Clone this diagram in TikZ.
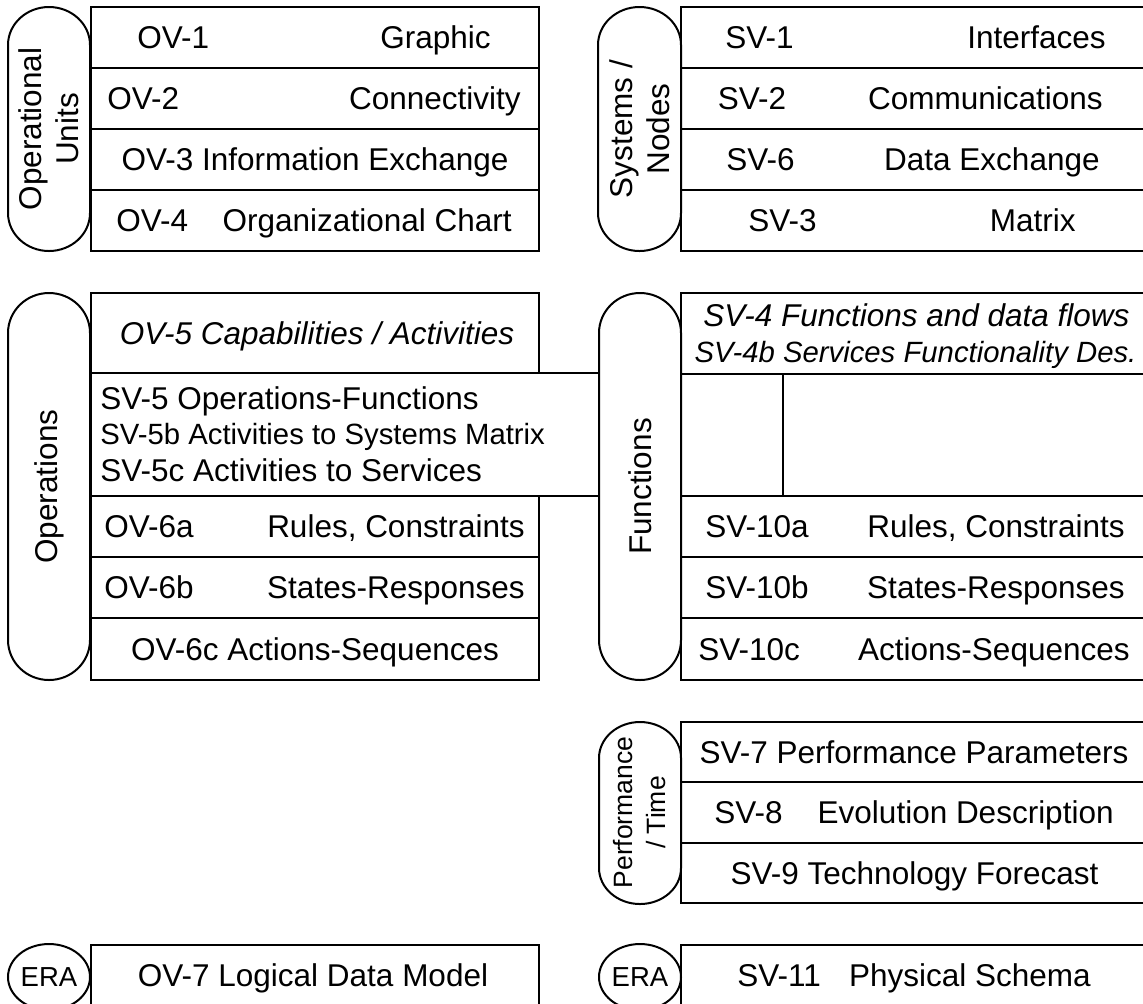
\documentclass[tikz,border=0pt]{standalone}
\usepackage{fontspec}
\setmainfont{Liberation Sans}
\newcommand\fsN{\fontsize{15.75}{18.5}\selectfont}
\newcommand\fsS{\fontsize{14.65}{17.5}\selectfont}
\newcommand\fsP{\fontsize{13.25}{16.5}\selectfont}
\newcommand\fsE{\fontsize{13.75}{16}\selectfont}
\newcommand\drawpill[5]{%
  \draw[ln] (#1,#3+#5) -- (#1,#4-#5)
    arc[start angle=180,end angle=0,x radius={(#2-#1)/2},y radius=#5]
    -- (#2,#3+#5)
    arc[start angle=0,end angle=-180,x radius={(#2-#1)/2},y radius=#5] -- cycle;}
\begin{document}
\begin{tikzpicture}[x=0.5pt,y=-0.5pt,
  ln/.style={draw=black,line width=1pt},
  t/.style={inner sep=0pt,font=\fsN},
  ti/.style={inner sep=0pt,font=\fsN\itshape},
  ts/.style={inner sep=0pt,font=\fsS},
  tsi/.style={inner sep=0pt,font=\fsS\itshape},
  plab/.style={inner sep=0pt,font=\fsN,rotate=90,align=center}]
\fill[white] (0,0) rectangle (1143,1003);
\useasboundingbox (0,0) rectangle (1143,1003);
\clip (0,0) rectangle (1143,1003);

% ---------- Operational Units ----------
\drawpill{8}{90}{7}{251}{38}
\node[plab] (lunits) at (49,129) {Operational\\Units};
\draw[ln] (91,7) rectangle (539,251);
\draw[ln] (91,68) -- (539,68) (91,129) -- (539,129) (91,190) -- (539,190);
\node[t,anchor=base west] (ov1) at (137,48.5) {OV-1};
\node[t,anchor=base east] (ov1d) at (491,48.5) {Graphic};
\node[t,anchor=base west] (ov2) at (107,109.5) {OV-2};
\node[t,anchor=base east] (ov2d) at (521,109.5) {Connectivity};
\node[t,anchor=base] (ov3) at (315,170.5) {OV-3 Information Exchange};
\node[t,anchor=base west] (ov4) at (116,231.5) {OV-4};
\node[t,anchor=base east] (ov4d) at (512,231.5) {Organizational Chart};

% ---------- Systems / Nodes ----------
\drawpill{598}{681}{7}{251}{38}
\node[plab] (lsys) at (639.5,129) {Systems /\\Nodes};
\draw[ln] (681,7) rectangle (1151,251);
\draw[ln] (681,68) -- (1151,68) (681,129) -- (1151,129) (681,190) -- (1151,190);
\node[t,anchor=base west] (sv1) at (725,48.5) {SV-1};
\node[t,anchor=base east] (sv1d) at (1106,48.5) {Interfaces};
\node[t,anchor=base west] (sv2) at (717.5,109.5) {SV-2};
\node[t,anchor=base east] (sv2d) at (1103,109.5) {Communications};
\node[t,anchor=base west] (sv6) at (726,170.5) {SV-6};
\node[t,anchor=base east] (sv6d) at (1100,170.5) {Data Exchange};
\node[t,anchor=base west] (sv3) at (748,231.5) {SV-3};
\node[t,anchor=base east] (sv3d) at (1076,231.5) {Matrix};

% ---------- Operations ----------
\drawpill{8}{90}{293}{680}{40}
\node[plab] (lops) at (49,486.5) {Operations};
\draw[ln] (91,293) rectangle (539,373);
\draw[ln] (91,373) rectangle (599,496);
\draw[ln] (91,496) rectangle (539,680);
\draw[ln] (91,557) -- (539,557) (91,618) -- (539,618);
\node[ti,anchor=base] (ov5) at (317,344) {OV-5 Capabilities / Activities};
\node[t,anchor=base west] (sv5) at (100,409) {SV-5 Operations-Functions};
\node[ts,anchor=base west] (sv5b) at (100,444) {SV-5b Activities to Systems Matrix};
\node[t,anchor=base west] (sv5c) at (100,481) {SV-5c Activities to Services};
\node[t,anchor=base west] (ov6a) at (104,537.5) {OV-6a};
\node[t,anchor=base east] (ov6ad) at (525,537.5) {Rules, Constraints};
\node[t,anchor=base west] (ov6b) at (104,598.5) {OV-6b};
\node[t,anchor=base east] (ov6bd) at (525,598.5) {States-Responses};
\node[t,anchor=base] (ov6c) at (315,660) {OV-6c Actions-Sequences};

% ---------- Functions ----------
\drawpill{599}{681}{293}{680}{40}
\node[plab] (lfun) at (640,486.5) {Functions};
\draw[ln] (681,293) rectangle (1151,680);
\draw[ln] (681,374) -- (1151,374) (681,496) -- (1151,496)
          (681,557) -- (1151,557) (681,618) -- (1151,618);
\draw[ln] (783,374) -- (783,496);
\node[ti,anchor=base] (sv4) at (916.5,326) {SV-4 Functions and data flows};
\node[tsi,anchor=base] (sv4b) at (915.5,362.5) {SV-4b Services Functionality Des.};
\node[t,anchor=base west] (sv10a) at (705,537.5) {SV-10a};
\node[t,anchor=base east] (sv10ad) at (1125,537.5) {Rules, Constraints};
\node[t,anchor=base west] (sv10b) at (705,598.5) {SV-10b};
\node[t,anchor=base east] (sv10bd) at (1125,598.5) {States-Responses};
\node[t,anchor=base west] (sv10c) at (698,660) {SV-10c};
\node[t,anchor=base east] (sv10cd) at (1130,660) {Actions-Sequences};

% ---------- Performance / Time ----------
\drawpill{599}{681}{722}{904}{36}
\node[plab,font=\fsP] (lperf) at (640,812.5) {Performance\\/ Time};
\draw[ln] (681,722) rectangle (1151,903);
\draw[ln] (681,782) -- (1151,782) (681,843) -- (1151,843);
\node[t,anchor=base] (sv7) at (914,763) {SV-7 Performance Parameters};
\node[t,anchor=base west] (sv8) at (714,823.5) {SV-8};
\node[t,anchor=base east] (sv8d) at (1114,823.5) {Evolution Description};
\node[t,anchor=base] (sv9) at (914.5,884) {SV-9 Technology Forecast};

% ---------- ERA ----------
\draw[ln] (49,977) ellipse[x radius=41,y radius=33];
\node[inner sep=0pt,font=\fsE] (era1) at (49,977) {ERA};
\draw[ln] (91,945) rectangle (539,1015);
\node[t,anchor=base] (ov7) at (313,986) {OV-7 Logical Data Model};

\draw[ln] (640,977) ellipse[x radius=41,y radius=33];
\node[inner sep=0pt,font=\fsE] (era2) at (640,977) {ERA};
\draw[ln] (681,945) rectangle (1151,1015);
\node[t,anchor=base west] (sv11) at (737,986) {SV-11};
\node[t,anchor=base east] (sv11d) at (1091,986) {Physical Schema};
\end{tikzpicture}
\end{document}
